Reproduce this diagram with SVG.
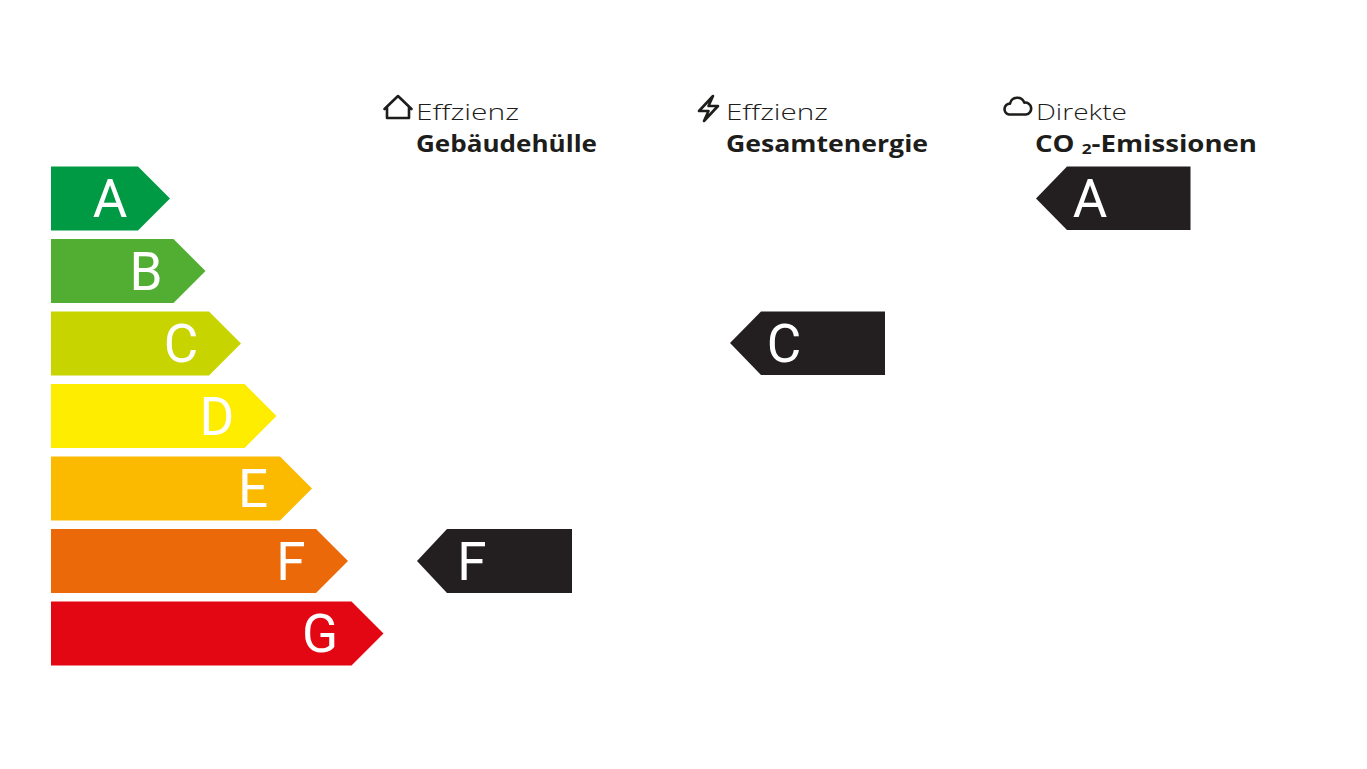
<svg xmlns="http://www.w3.org/2000/svg" width="1367" height="769" viewBox="0 0 1367 769">
<style>
.lt{font-family:Roboto,"Liberation Sans",sans-serif;font-size:53px;fill:#fff;text-anchor:middle}
.h1{font-family:"Open Sans","Liberation Sans",sans-serif;font-size:22px;font-weight:300;fill:#1d1d1b}
.h2{font-family:"Open Sans","Liberation Sans",sans-serif;font-size:24px;font-weight:700;fill:#1d1d1b}
.ic{fill:none;stroke:#1d1d1b;stroke-width:2.6;stroke-linejoin:round;stroke-linecap:round}
.dk{fill:#231f20}
</style>
<rect width="1367" height="769" fill="#fff"/>
<g id="scale">
<g id="bar-A"><path d="M51,166.5H138L170,198.5L138,230.5H51Z" fill="#009a44"/><text class="lt" x="110" y="217">A</text></g>
<g id="bar-B"><path d="M51,239H173.5L205.5,271L173.5,303H51Z" fill="#52ae32"/><text class="lt" x="146" y="289.5">B</text></g>
<g id="bar-C"><path d="M51,311.5H209L241,343.5L209,375.5H51Z" fill="#c8d400"/><text class="lt" x="181" y="362">C</text></g>
<g id="bar-D"><path d="M51,384H244.5L276.5,416L244.5,448H51Z" fill="#ffed00"/><text class="lt" x="217" y="434.5">D</text></g>
<g id="bar-E"><path d="M51,456.5H280L312,488.5L280,520.5H51Z" fill="#fbba00"/><text class="lt" x="253" y="507">E</text></g>
<g id="bar-F"><path d="M51,529H316L348,561L316,593H51Z" fill="#eb6909"/><text class="lt" x="291" y="579.5">F</text></g>
<g id="bar-G"><path d="M51,601.5H351.5L383.5,633.5L351.5,665.5H51Z" fill="#e30613"/><text class="lt" x="320" y="652">G</text></g>
</g>
<g id="col-huelle">
<path class="ic" d="M384.5,109 L398,96 L411.5,109 M387,106.5 V118 H409 V106.5"/>
<text class="h1" x="416" y="120" textLength="103" lengthAdjust="spacingAndGlyphs">Effzienz</text>
<text class="h2" x="416" y="152" textLength="181" lengthAdjust="spacingAndGlyphs">Gebäudehülle</text>
</g>
<g id="col-energie">
<path class="ic" d="M713,96 L699,111 H708.5 L704,121 L718,106 H708.5 Z"/>
<text class="h1" x="726" y="120" textLength="102" lengthAdjust="spacingAndGlyphs">Effzienz</text>
<text class="h2" x="726" y="152" textLength="202" lengthAdjust="spacingAndGlyphs">Gesamtenergie</text>
</g>
<g id="col-co2">
<path class="ic" d="M1009,114.5 A5.5,5.5 0 0 1 1010,103.6 A7.5,7.5 0 0 1 1024.3,102.6 A6,6 0 0 1 1026,114.5 Z"/>
<text class="h1" x="1036" y="120" textLength="91" lengthAdjust="spacingAndGlyphs">Direkte</text>
<text class="h2" x="1035" y="152" textLength="222" lengthAdjust="spacingAndGlyphs">CO <tspan font-size="15" dy="2">2</tspan><tspan dy="-2">-Emissionen</tspan></text>
</g>
<g id="rating-huelle"><path class="dk" d="M417,561L447,529H572V593H447Z"/><text class="lt" x="472" y="579.5">F</text></g>
<g id="rating-energie"><path class="dk" d="M730,343L761,311.5H885V375H761Z"/><text class="lt" x="784" y="362">C</text></g>
<g id="rating-co2"><path class="dk" d="M1036,198.5L1067,166.5H1190.5V230H1067Z"/><text class="lt" x="1090" y="217">A</text></g>
</svg>
